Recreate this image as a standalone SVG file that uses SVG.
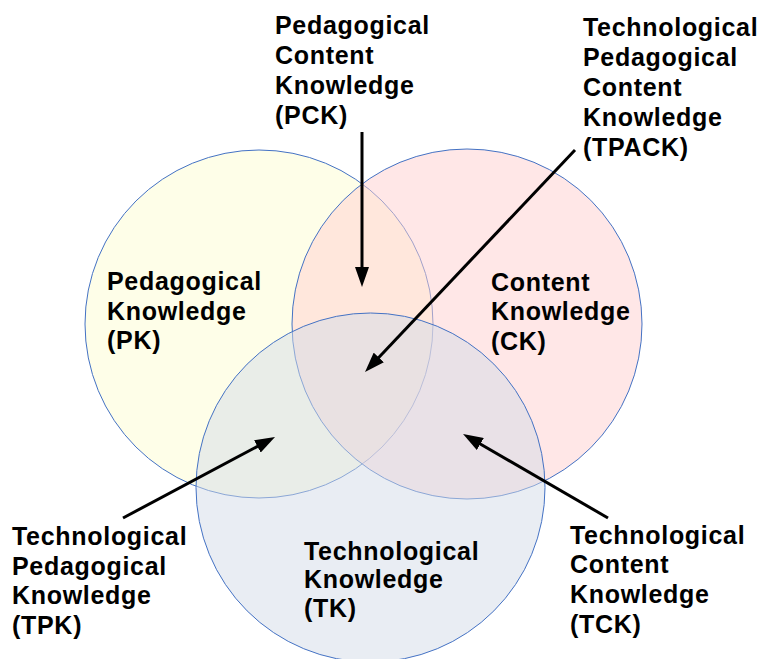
<svg xmlns="http://www.w3.org/2000/svg" width="763" height="659" viewBox="0 0 763 659">
<defs>
<style>
.lbl{font-family:"Liberation Sans",Arial,sans-serif;font-weight:bold;font-size:25px;letter-spacing:0.7px;fill:#000}
.circ{stroke:#4472c4;stroke-width:1}
.arr{stroke:#000;stroke-width:3;fill:none;marker-end:url(#ah)}
</style>
<marker id="ah" markerUnits="userSpaceOnUse" markerWidth="20" markerHeight="14" refX="10" refY="7" orient="auto">
<path d="M0,0 L20,7 L0,14 z" fill="#000"/>
</marker>
</defs>
<rect width="763" height="659" fill="#fff"/>
<g id="circles">
<circle id="pk-circle" class="circ" cx="259" cy="324" r="174" fill="#fefee8"/>
<circle id="ck-circle" class="circ" cx="467" cy="324" r="175" fill="#ffd0d0" fill-opacity="0.5"/>
<circle id="tk-circle" class="circ" cx="370.5" cy="487.5" r="174.5" fill="#d3dbe7" fill-opacity="0.5"/>
</g>
<g id="connectors">
<line class="arr" x1="362" y1="132" x2="362" y2="277"/>
<line class="arr" x1="575" y1="150" x2="371.9" y2="364.7"/>
<line class="arr" x1="123" y1="518" x2="266.2" y2="441.7"/>
<line class="arr" x1="608" y1="518" x2="471.7" y2="439"/>
</g>
<g id="pck" class="lbl">
<text x="275" y="34">Pedagogical</text>
<text x="275" y="64">Content</text>
<text x="275" y="94">Knowledge</text>
<text x="275" y="124">(PCK)</text>
</g>
<g id="tpack" class="lbl">
<text x="583" y="36">Technological</text>
<text x="583" y="66">Pedagogical</text>
<text x="583" y="96">Content</text>
<text x="583" y="126">Knowledge</text>
<text x="583" y="156">(TPACK)</text>
</g>
<g id="pk" class="lbl">
<text x="107" y="290">Pedagogical</text>
<text x="107" y="319.5">Knowledge</text>
<text x="107" y="349">(PK)</text>
</g>
<g id="ck" class="lbl">
<text x="491" y="290.5">Content</text>
<text x="491" y="320">Knowledge</text>
<text x="491" y="349.5">(CK)</text>
</g>
<g id="tk" class="lbl">
<text x="304" y="559.5">Technological</text>
<text x="304" y="588">Knowledge</text>
<text x="304" y="617">(TK)</text>
</g>
<g id="tck" class="lbl">
<text x="570" y="543.5">Technological</text>
<text x="570" y="573">Content</text>
<text x="570" y="603">Knowledge</text>
<text x="570" y="632.5">(TCK)</text>
</g>
<g id="tpk" class="lbl">
<text x="12" y="545">Technological</text>
<text x="12" y="574.5">Pedagogical</text>
<text x="12" y="604">Knowledge</text>
<text x="12" y="633.5">(TPK)</text>
</g>
</svg>
